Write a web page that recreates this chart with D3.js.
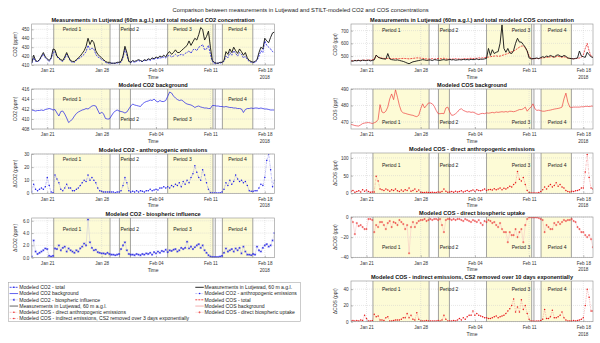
<!DOCTYPE html>
<html>
<head>
<meta charset="utf-8">
<script src="https://cdn.jsdelivr.net/npm/d3@7"></script>
<style>
  body { margin: 0; background: #fff; }
  svg { display: block; }
</style>
</head>
<body>
<svg id="chart" width="600" height="343"></svg>
<script>
// <-- ************ DATA (6-hourly, from 19 Jan 2018 00:00) ************ -->
const co2Meas = [
  412,421,415,414, 416,420,424,419, 417,415,418,428, 427,420,418,416, 415,419,424,419,
  415,414,414,416, 418,420,423,426, 431,440,433,438, 435,426,422,420, 418,416,414,413,
  413,412,412,412, 413,413,414,420, 431,424,414,413, 415,414,415,416, 415,414,416,415,
  417,416,418,417, 419,418,420,419, 421,419,423,425, 422,424,427,424, 424,426,428,430,
  432,437,432,436, 440,438,444,452, 450,438,442,448, 430,415,413,412, 412,413,413,415,
  425,422,428,424, 430,426,423,428, 425,421,424,418, 415,414,413,414, 416,424,430,428,
  440,437,435,441, 446,447];
const co2Total = [
  412,418,414,414, 415,419,422,418, 416,414,417,424, 425,419,417,415, 414,417,422,418,
  414,413,413,415, 417,418,420,422, 425,432,427,429, 428,422,419,418, 416,415,413,412,
  412,412,412,412, 412,413,413,418, 428,421,414,413, 414,413,414,415, 414,414,415,415,
  416,415,417,416, 418,417,418,418, 419,418,420,421, 419,420,422,420, 421,422,421,423,
  424,426,423,427, 428,426,430,431, 433,427,428,432, 422,414,412,412, 412,412,413,414,
  420,418,424,421, 426,423,420,424, 422,418,420,416, 414,413,413,413, 415,420,426,424,
  437,432,430,428, 425,424];
const co2Bg = [
  411.8,411.7,411.6,411.7, 411.7,411.8,411.7,411.9, 412.0,412.1,412.0,411.8, 411.9,411.2,410.6,411.5,
  411.6,411.0,410.2,409.3, 409.6,410.0,410.6,411.1, 411.4,411.6,411.8,411.9, 412.1,412.0,412.3,412.6,
  412.7,412.6,411.8,411.0, 411.4,411.0,410.1,410.0, 410.0,410.6,411.2,411.6, 411.8,411.6,411.5,411.4,
  411.2,411.4,412.0,412.6, 413.0,412.8,412.7,412.6, 412.5,413.0,413.3,413.5, 413.6,413.8,413.7,414.0,
  413.6,413.4,413.7,413.5, 413.5,413.7,414.5,415.4, 415.2,414.6,414.2,413.9, 413.7,413.8,413.6,413.2,
  413.0,412.9,412.8,412.6, 412.3,412.5,412.6,412.4, 412.3,412.2,412.2,412.1, 412.1,412.7,412.7,412.6,
  412.6,412.5,412.5,412.4, 412.5,412.4,412.3,412.3, 412.2,412.2,412.1,412.1, 412.0,411.3,411.9,412.1,
  412.1,412.2,412.1,412.2, 412.2,412.1,412.2,412.1, 412.0,412.0,411.9,411.8, 411.8,411.8];
const co2Anthro = [
  1,7,3,2, 3,4,3,5, 12,6,1,0.5, 14,11,8,3, 2,4,7,4, 4,2,2,3, 4,6,8,10, 9,14,10,12,
  10,8,4,2, 1.5,1,1,1, 1,1,1,0.5, 1,1,2,6, 12,8,2,1, 1.5,1,2,1, 2,1.5,1,2, 2,3,2,2.5,
  3,2.5,4,4, 5,4,5,4, 6,5,7,6, 8,5,9,7, 10,8,12,15, 21,16,12,10, 18,14,8,3,
  0.5,0.3,0.3,0.2, 0.3,0.5,1,3, 8,6,10,7, 9,14,11,9, 10,8,9,6, 2,1.5,1.5,2, 2,4,7,6,
  12,25,30,18, 5,10];
const co2Bio = [
  0.2,2.8,1.0,0.6, 0.8,1.0,1.2,1.5, 1.4,0.3,0.2,0.3, 1.5,1.4,2.0,1.2, 1.6,1.8,1.0,1.5,
  1.2,1.0,0.8,1.2, 1.0,1.5,1.8,2.3, 2.0,6.2,2.5,1.6, 1.2,1.3,0.9,0.8, 0.7,0.7,0.6,0.8,
  0.6,0.5,0.5,0.4, 0.5,0.6,1.4,2.0, 2.5,1.2,0.6,0.5, 0.5,0.4,0.6,0.5, 0.4,0.6,0.5,0.7,
  0.6,0.8,0.5,0.9, 0.7,1.0,0.8,1.1, 1.0,1.3,0.9,1.2, 1.1,1.3,1.4,1.0, 1.2,1.6,1.4,1.6,
  2.6,1.5,1.8,1.4, 1.7,2.0,2.2,1.6, 2.0,1.2,0.8,0.4, 0.2,0.1,0.1,0.1, 0.1,0.2,0.3,0.8,
  1.5,1.0,1.2,1.4, 1.0,1.5,1.2,1.6, 0.7,1.8,1.0,0.5, 0.5,0.4,0.6,0.5, 1.8,1.2,1.0,1.6,
  2.0,2.2,1.8,2.0, 2.8,4.0];
const cosMeas = [
  462,460,465,463, 466,462,468,465, 464,468,462,466, 470,508,492,485, 480,478,476,520,
  478,472,470,468, 470,466,462,458, 452,445,440,448, 455,458,462,465, 468,472,470,466,
  468,470,465,472, 470,468,466,470, 472,468,470,474, 470,472,468,470, 472,470,474,471,
  473,470,475,472, 474,478,472,476, 475,478,482,560, 505,550,520,530, 535,600,745,560,
  530,560,525,520, 545,600,640,610, 610,590,570,540, 485,478,480,482, 485,480,488,495,
  490,500,495,505, 498,492,505,510, 500,495,505,498, 485,482,480,478, 482,485,540,500,
  495,490,530,510, 495,488];
const cosTotal = [
  462,464,466,465, 468,466,467,469, 468,470,468,472, 474,505,490,486, 484,482,481,482,
  480,479,480,481, 479,480,481,482, 481,480,478,480, 482,484,486,485, 484,482,480,478,
  476,478,480,476, 478,482,480,478, 484,478,476,477, 476,478,480,477, 478,476,478,480,
  479,481,483,480, 484,482,486,484, 486,488,490,492, 495,498,500,502, 498,500,505,510,
  515,520,528,535, 540,548,560,570, 578,580,565,540, 500,482,478,480, 482,480,484,486,
  488,492,490,495, 494,490,496,498, 494,490,495,490, 484,482,480,479, 480,482,485,490,
  510,560,600,540, 500,490];
const cosBg = [
  468.5,468.2,467.8,467.6, 467.5,468.2,469.0,469.3, 469.5,469.6,469.4,469.0, 469.5,470.0,471.5,480.5,
  476.0,475.5,476.5,479.0, 484.0,487.0,483.5,489.5, 485.0,480.0,476.5,475.5, 475.2,474.8,474.5,474.2,
  474.0,473.5,473.2,474.0, 478.0,481.0,478.5,480.0, 481.5,481.5,481.0,479.5, 477.0,475.0,475.0,475.2,
  475.0,478.5,479.0,476.0, 474.0,474.2,475.0,476.0, 477.5,478.0,477.0,476.5, 476.0,476.2,475.8,476.0,
  475.5,474.8,474.5,475.0, 475.2,475.0,475.5,475.3, 475.5,475.8,475.5,476.0, 475.8,476.0,476.2,476.0,
  476.3,476.0,476.5,476.4, 476.2,476.5,477.0,477.5, 477.5,478.0,479.0,476.5, 478.0,479.0,481.0,478.0,
  477.0,477.2,476.8,476.5, 476.5,476.8,477.0,477.2, 477.5,477.8,478.0,478.2, 478.5,479.0,484.0,487.5,
  482.0,479.0,478.8,479.0, 479.0,479.0,479.0,479.2, 479.2,479.4,479.5,479.3, 479.6,479.6];
const cosAnthro = [
  6,8,3,5, 7,4,10,6, 9,5,3,4, 4,48,35,12, 10,8,12,9, 6,10,8,12, 7,5,9,6, 10,8,15,6,
  8,12,5,9, 3,2,2,3, 2,2,3,2, 2,4,3,5, 12,6,3,4, 5,3,6,4, 5,7,4,6, 8,5,7,9,
  6,10,8,7, 9,12,8,10, 11,9,13,10, 12,15,10,14, 12,16,20,18, 25,30,62,40, 35,45,25,8,
  2,1,1,1, 1,2,5,10, 18,12,20,25, 18,22,30,20, 25,18,15,8, 5,4,6,5, 7,8,10,15,
  15,60,110,45, 15,12];
const cosBio = [
  -1,-5,-17,-6, -9,-8,-10,-12, -12,-2,-2,-3, -15,-8,-10,-5, -5,-8,-12,-6, -4,-10,-5,-6,
  -8,-3,-5,-7, -12,-8,-36,-10, -5,-10,-6,-4, -3,-3,-2,-4, -3,-2,-3,-2, -2,-3,-2,-8,
  -15,-3,-2,-2, -3,-2,-3,-2, -2,-3,-4,-2, -3,-4,-5,-3, -4,-5,-3,-6, -8,-4,-5,-3,
  -4,-6,-5,-8, -10,-6,-12,-15, -15,-25,-15,-18, -18,-12,-20,-15, -12,-25,-8,-2,
  -0.5,-0.3,-0.5,-0.5, -0.5,-1,-2,-3, -15,-8,-10,-12, -12,-6,-8,-5, -7,-5,-3,-4,
  -3,-3,-2,-4, -5,-10,-12,-15, -15,-18,-20,-18, -22,-30];
const cosIndirect = [
  1,1.5,1,1.5, 1,2,1.5,8, 4,1,1,1.5, 9,6,7,2, 2,1.5,5,6, 1,1,1.5,2, 2,2,3,5, 5,10,5,8,
  3,2,11,3, 1,1,1,1.5, 1,1,0.8,1, 1,1.5,1,2, 8,3,1,1, 1,1.5,1,2, 4,2,5,3, 6,8,8,13,
  8,10,8,7, 6,5,5,4, 4,5,6,7, 5,6,7,8, 10,13,16,20, 28,12,18,12, 27,15,20,10,
  3,1,0.8,0.6, 1,1,1.5,3, 15,4,4,6, 14,5,5,6, 8,12,5,2, 1,1,1,1.5, 1,1.5,2,3,
  5,20,40,30, 13,13];

// time axis
const parseT = d3.timeParse("%Y-%m-%d %H:%M");
const T_START = parseT("2018-01-19 00:00");
const T_END = parseT("2018-02-19 06:00");
const STEP_HOURS = 6;
const times = co2Meas.map((v, i) => d3.timeHour.offset(T_START, i * STEP_HOURS));

const xTickDates = ["2018-01-21 00:00", "2018-01-28 00:00", "2018-02-04 00:00", "2018-02-11 00:00", "2018-02-18 00:00"].map(parseT);
const xTickLabels = ["Jan 21", "Jan 28", "Feb 04", "Feb 11", "Feb 18"];

// periods
const periodNames = ["Period 1", "Period 2", "Period 3", "Period 4"];
const periodStart = ["2018-01-21 20:00", "2018-01-30 07:00", "2018-02-05 12:00", "2018-02-12 13:00"].map(parseT);
const periodEnd = ["2018-01-29 02:00", "2018-01-31 17:00", "2018-02-11 08:00", "2018-02-16 11:00"].map(parseT);
const extraLines = ["2018-02-11 15:00"].map(parseT);
const labelLeft = ["2018-01-23 00:00", "2018-01-30 10:00", "2018-02-06 05:00", "2018-02-13 07:00"].map(parseT);
const labelRight = ["2018-01-23 00:00", "2018-01-30 11:00", "2018-02-08 18:00", "2018-02-13 10:00"].map(parseT);

// <-- ************ STYLE ************ -->
const FONT = "'Liberation Sans', Arial, Helvetica, sans-serif";
const BLUE = "#2020e8";
const RED = "#e81a1a";

const S = {
  meas:     { color: "#111", width: 0.9 },
  co2Total: { color: BLUE, width: 0.8, dash: "2,1" },
  co2Bg:    { color: BLUE, width: 0.7 },
  co2Anth:  { color: "#7b7bee", width: 0.5, dash: "2,0.8,0.6,0.8", dot: BLUE },
  co2Bio:   { color: "#c4c4dc", width: 0.5, star: BLUE },
  cosTotal: { color: RED, width: 0.8, dash: "2,1" },
  cosBg:    { color: "#ee4040", width: 0.7 },
  cosAnth:  { color: "#f08a8a", width: 0.5, dash: "2,0.8,0.6,0.8", dot: RED },
  cosBio:   { color: "#f6c0c0", width: 0.5, plus: RED },
  cosInd:   { color: "#f08a8a", width: 0.5, dash: "1.5,1", dot: RED }
};

const LEFT = { x0: 31.7, x1: 274.5 };
const RIGHT = { x0: 351, x1: 593 };

const panels = [
  { ...LEFT, y0: 24, y1: 65, title: "Measurements in Lutjewad (60m a.g.l.) and total modeled CO2 concentration",
    ylabel: "CO2 (ppm)", yDomain: [410, 456], yTicks: [410, 420, 430, 440, 450],
    labelX: labelLeft, labelY: [450, 450, 450, 450],
    series: [[co2Total, S.co2Total], [co2Meas, S.meas]] },
  { ...LEFT, y0: 89, y1: 129, title: "Modeled CO2 background",
    ylabel: "CO2 (ppm)", yDomain: [408, 416], yTicks: [408, 410, 412, 414, 416],
    labelX: labelLeft, labelY: [414, 410, 410, 414],
    series: [[co2Bg, S.co2Bg]] },
  { ...LEFT, y0: 154, y1: 193.3, title: "Modeled CO2 - anthropogenic emissions",
    ylabel: "\u0394CO2 (ppm)", yDomain: [0, 30], yTicks: [0, 10, 20, 30],
    labelX: labelLeft, labelY: [26, 26, 26, 26],
    series: [[co2Anthro, S.co2Anth]] },
  { ...LEFT, y0: 218, y1: 257.7, title: "Modeled CO2 - biospheric influence",
    ylabel: "\u0394CO2 (ppm)", yDomain: [0, 6.45], yTicks: [0, 2, 4, 6],
    labelX: labelLeft, labelY: [4.7, 4.7, 4.7, 4.7],
    series: [[co2Bio, S.co2Bio]] },
  { ...RIGHT, y0: 24, y1: 65, title: "Measurements in Lutjewad (60m a.g.l.) and total modeled COS concentration",
    ylabel: "COS (ppt)", yDomain: [430, 752], yTicks: [500, 600, 700],
    labelX: labelRight, labelY: [700, 700, 700, 700],
    series: [[cosTotal, S.cosTotal], [cosMeas, S.meas]] },
  { ...RIGHT, y0: 89, y1: 129, title: "Modeled COS background",
    ylabel: "COS (ppt)", yDomain: [465.7, 490], yTicks: [470, 480, 490],
    labelX: labelRight, labelY: [470, 470, 470, 470],
    series: [[cosBg, S.cosBg]] },
  { ...RIGHT, y0: 153, y1: 193.3, title: "Modeled COS - direct anthropogenic emissions",
    ylabel: "\u0394COS (ppt)", yDomain: [0, 114], yTicks: [0, 50, 100],
    labelX: labelRight, labelY: [80, 80, 80, 80],
    series: [[cosAnthro, S.cosAnth]] },
  { ...RIGHT, y0: 217, y1: 257.3, title: "Modeled COS - direct biospheric uptake",
    ylabel: "\u0394COS (ppt)", yDomain: [-40, 0], yTicks: [-40, -20, 0],
    labelX: labelRight, labelY: [-30, -30, -30, -30],
    series: [[cosBio, S.cosBio]] },
  { ...RIGHT, y0: 281, y1: 321.7, title: "Modeled COS - indirect emissions, CS2 removed over 10 days exponentially",
    ylabel: "\u0394COS (ppt)", yDomain: [0, 50], yTicks: [0, 20, 40],
    labelX: labelRight, labelY: [40, 40, 40, 40],
    series: [[cosIndirect, S.cosInd]] }
];

const legendCol1 = [
  ["Modeled CO2 - total", S.co2Total, "dot"],
  ["Modeled CO2 background", S.co2Bg],
  ["Modeled CO2 - biospheric influence", S.co2Bio],
  ["Measurements in Lutjewad, 60 m a.g.l.", { color: "#555", width: 0.9 }],
  ["Modeled COS - direct anthropogenic emissions", S.cosAnth],
  ["Modeled COS - indirect emissions, CS2 removed over 3 days exponentially", S.cosInd]
];
const legendCol2 = [
  ["Measurements in Lutjewad, 60 m a.g.l.", S.meas],
  ["Modeled CO2 - anthropogenic emissions", S.co2Anth],
  ["Modeled COS - total", S.cosTotal],
  ["Modeled COS background", { color: "#f09090", width: 0.7 }],
  ["Modeled COS - direct biospheric uptake", S.cosBio]
];

// <-- ************ DRAWING ************ -->
const svg = d3.select("#chart").attr("font-family", FONT);

svg.append("text")
  .attr("x", 300.5).attr("y", 12)
  .attr("text-anchor", "middle")
  .attr("font-size", 5.8)
  .attr("fill", "#222")
  .text("Comparison between measurements in Lutjewad and STILT-modeled CO2 and COS concentrations");

function starPath(cx, cy, r) {
  const a = r * 0.72;
  return `M${cx - r},${cy}L${cx + r},${cy}M${cx},${cy - r}L${cx},${cy + r}` +
         `M${cx - a},${cy - a}L${cx + a},${cy + a}M${cx - a},${cy + a}L${cx + a},${cy - a}`;
}
function plusPath(cx, cy, r) {
  return `M${cx - r},${cy}L${cx + r},${cy}M${cx},${cy - r}L${cx},${cy + r}`;
}

function drawSeries(g, data, st, x, y) {
  const pts = data.map((v, i) => [x(times[i]), y(v)]);
  g.append("path")
    .attr("d", d3.line()(pts))
    .attr("fill", "none")
    .attr("stroke", st.color)
    .attr("stroke-width", st.width)
    .attr("stroke-dasharray", st.dash || null)
    .attr("stroke-linejoin", "round");
  if (st.dot) {
    g.selectAll(null).data(pts).enter().append("circle")
      .attr("cx", d => d[0]).attr("cy", d => d[1]).attr("r", 0.75)
      .attr("fill", st.dot);
  }
  if (st.star) {
    g.append("path").attr("d", pts.map(d => starPath(d[0], d[1], 1.1)).join(""))
      .attr("stroke", st.star).attr("stroke-width", 0.45).attr("fill", "none");
  }
  if (st.plus) {
    g.append("path").attr("d", pts.map(d => plusPath(d[0], d[1], 1.1)).join(""))
      .attr("stroke", st.plus).attr("stroke-width", 0.5).attr("fill", "none");
  }
}

panels.forEach((p, idx) => {
  const x = d3.scaleTime().domain([T_START, T_END]).range([p.x0, p.x1]);
  const y = d3.scaleLinear().domain(p.yDomain).range([p.y1, p.y0]);
  const g = svg.append("g");

  svg.append("clipPath").attr("id", "clip" + idx)
    .append("rect")
    .attr("x", p.x0).attr("y", p.y0)
    .attr("width", p.x1 - p.x0).attr("height", p.y1 - p.y0);

  // period shading
  g.selectAll(null).data(periodNames).enter().append("rect")
    .attr("x", (d, i) => x(periodStart[i]))
    .attr("y", p.y0)
    .attr("width", (d, i) => x(periodEnd[i]) - x(periodStart[i]))
    .attr("height", p.y1 - p.y0)
    .attr("fill", "#fdfbd6");

  // grid
  g.selectAll(null).data(xTickDates).enter().append("line")
    .attr("x1", d => x(d)).attr("x2", d => x(d))
    .attr("y1", p.y0).attr("y2", p.y1)
    .attr("stroke", "#cfcfcf").attr("stroke-width", 0.5).attr("stroke-dasharray", "1,1");
  g.selectAll(null).data(p.yTicks).enter().append("line")
    .attr("x1", p.x0).attr("x2", p.x1)
    .attr("y1", d => y(d)).attr("y2", d => y(d))
    .attr("stroke", "#cfcfcf").attr("stroke-width", 0.5).attr("stroke-dasharray", "1,1");

  // period boundary lines
  const bounds = periodStart.concat(periodEnd, extraLines);
  g.selectAll(null).data(bounds).enter().append("line")
    .attr("x1", d => x(d)).attr("x2", d => x(d))
    .attr("y1", p.y0).attr("y2", p.y1)
    .attr("stroke", "#8c8c8c").attr("stroke-width", 0.8);

  // period labels
  g.selectAll(null).data(periodNames).enter().append("text")
    .attr("x", (d, i) => x(p.labelX[i]))
    .attr("y", (d, i) => y(p.labelY[i]))
    .attr("dy", "0.35em")
    .attr("font-size", 5)
    .attr("fill", "#222")
    .text(d => d);

  // series
  const sg = g.append("g").attr("clip-path", `url(#clip${idx})`);
  p.series.forEach(s => drawSeries(sg, s[0], s[1], x, y));

  // axes
  const xa = g.append("g").attr("transform", `translate(0,${p.y1})`)
    .call(d3.axisBottom(x).tickValues(xTickDates).tickFormat((d, i) => xTickLabels[i])
      .tickSizeInner(-2).tickSizeOuter(0).tickPadding(4));
  const ya = g.append("g").attr("transform", `translate(${p.x0},0)`)
    .call(d3.axisLeft(y).tickValues(p.yTicks).tickSizeInner(-2).tickSizeOuter(0).tickPadding(2.4));
  [xa, ya].forEach(a => {
    a.attr("font-family", FONT).attr("font-size", 4.6);
    a.select(".domain").remove();
    a.selectAll("line").attr("stroke", "#777").attr("stroke-width", 0.5);
    a.selectAll("text").attr("fill", "#333");
  });

  // box
  g.append("rect")
    .attr("x", p.x0).attr("y", p.y0)
    .attr("width", p.x1 - p.x0).attr("height", p.y1 - p.y0)
    .attr("fill", "none").attr("stroke", "#8f8f8f").attr("stroke-width", 0.6);

  // title
  g.append("text")
    .attr("x", (p.x0 + p.x1) / 2).attr("y", p.y0 - 1.6)
    .attr("text-anchor", "middle")
    .attr("font-size", 5.6).attr("font-weight", "bold").attr("fill", "#111")
    .text(p.title);

  // x label + year
  g.append("text")
    .attr("x", (p.x0 + p.x1) / 2).attr("y", p.y1 + 14)
    .attr("text-anchor", "middle").attr("font-size", 5).attr("fill", "#333")
    .text("Time");
  g.append("text")
    .attr("x", x(xTickDates[4])).attr("y", p.y1 + 14)
    .attr("text-anchor", "middle").attr("font-size", 4.6).attr("fill", "#333")
    .text("2018");

  // y label
  g.append("text")
    .attr("transform", `translate(${p.x0 - 14.5},${(p.y0 + p.y1) / 2}) rotate(-90)`)
    .attr("text-anchor", "middle").attr("font-size", 5).attr("fill", "#333")
    .text(p.ylabel);
});

// <-- ************ LEGEND ************ -->
const leg = svg.append("g");
leg.append("rect")
  .attr("x", 8.3).attr("y", 282.3).attr("width", 292.4).attr("height", 39.4)
  .attr("fill", "#fff").attr("stroke", "#a8a8a8").attr("stroke-width", 0.6);

function legendRow(item, xs, xt, yy) {
  const st = item[1];
  const gx = leg.append("g");
  gx.append("line")
    .attr("x1", xs).attr("x2", xs + 8.5).attr("y1", yy).attr("y2", yy)
    .attr("stroke", st.color).attr("stroke-width", st.width)
    .attr("stroke-dasharray", st.dash || null);
  const cx = xs + 4.25;
  if (st.dot || item[2] === "dot") gx.append("circle").attr("cx", cx).attr("cy", yy).attr("r", 0.75).attr("fill", st.dot || st.color);
  if (st.star) gx.append("path").attr("d", starPath(cx, yy, 1.1)).attr("stroke", st.star).attr("stroke-width", 0.45);
  if (st.plus) gx.append("path").attr("d", plusPath(cx, yy, 1.1)).attr("stroke", st.plus).attr("stroke-width", 0.5);
  gx.append("text")
    .attr("x", xt).attr("y", yy).attr("dy", "0.35em")
    .attr("font-size", 5.1).attr("fill", "#222")
    .text(item[0]);
}
legendCol1.forEach((item, i) => legendRow(item, 9.6, 19.2, 287.3 + i * 6.25));
legendCol2.forEach((item, i) => legendRow(item, 195.3, 204.6, 287.3 + i * 6.25));
</script>
</body>
</html>
